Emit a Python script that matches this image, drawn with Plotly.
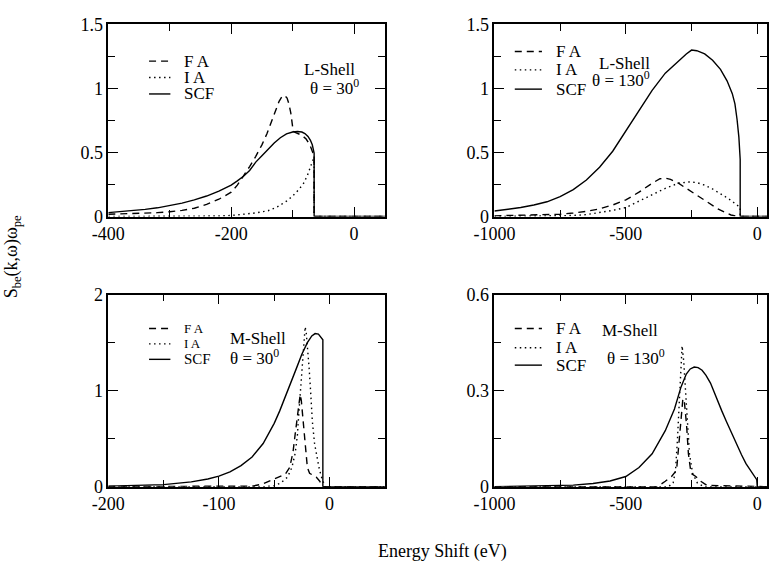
import plotly.graph_objects as go

# ---------------- data ----------------
# Panel 1: L-Shell, theta = 30
p1_scf_x = [-400, -380, -360, -340, -320, -300, -280, -260, -240, -220, -200, -190, -180, -170, -160, -150, -140, -130, -120, -110, -100, -92, -85, -80, -75, -71, -68, -66, -65, -65, 50]
p1_scf_y = [0.030, 0.037, 0.046, 0.056, 0.068, 0.085, 0.105, 0.13, 0.16, 0.198, 0.245, 0.278, 0.315, 0.36, 0.425, 0.475, 0.525, 0.575, 0.615, 0.645, 0.66, 0.664, 0.66, 0.648, 0.625, 0.595, 0.56, 0.525, 0.495, 0, 0]
p1_fa_x = [-400, -360, -320, -300, -280, -260, -240, -220, -200, -190, -180, -170, -160, -150, -142, -135, -128, -122, -117, -113, -109, -106, -103, -101, -99, -95, -85, -78, -72, -68, -65, -65, 50]
p1_fa_y = [0.018, 0.022, 0.030, 0.037, 0.048, 0.065, 0.095, 0.135, 0.19, 0.245, 0.315, 0.39, 0.47, 0.56, 0.645, 0.73, 0.82, 0.90, 0.94, 0.945, 0.925, 0.88, 0.81, 0.74, 0.665, 0.655, 0.635, 0.605, 0.56, 0.51, 0.47, 0, 0]
p1_ia_x = [-400, -250, -220, -200, -180, -160, -140, -125, -110, -100, -90, -82, -76, -71, -67, -65, -65, 50]
p1_ia_y = [0, 0, 0.004, 0.008, 0.016, 0.028, 0.045, 0.075, 0.12, 0.16, 0.21, 0.26, 0.32, 0.38, 0.44, 0.47, 0, 0]

# Panel 2: L-Shell, theta = 130
p2_scf_x = [-1000, -950, -900, -850, -800, -750, -700, -650, -600, -550, -500, -450, -400, -350, -300, -270, -250, -230, -200, -170, -140, -115, -95, -85, -77, -70, -65, -65, 40]
p2_scf_y = [0.043, 0.055, 0.07, 0.09, 0.115, 0.155, 0.21, 0.285, 0.385, 0.51, 0.67, 0.83, 0.985, 1.12, 1.215, 1.27, 1.30, 1.295, 1.27, 1.22, 1.15, 1.06, 0.96, 0.88, 0.76, 0.62, 0.445, 0, 0]
p2_fa_x = [-1000, -900, -800, -750, -700, -650, -600, -550, -500, -450, -400, -370, -350, -330, -300, -270, -240, -210, -180, -150, -120, -100, -80, -65, 40]
p2_fa_y = [0.005, 0.008, 0.013, 0.018, 0.027, 0.04, 0.06, 0.09, 0.13, 0.19, 0.26, 0.295, 0.30, 0.29, 0.26, 0.22, 0.18, 0.14, 0.10, 0.06, 0.03, 0.012, 0.003, 0, 0]
p2_ia_x = [-1000, -800, -700, -650, -600, -550, -500, -450, -400, -350, -300, -260, -230, -200, -170, -140, -110, -90, -75, -65, -65, 40]
p2_ia_y = [0, 0.002, 0.008, 0.015, 0.03, 0.048, 0.07, 0.12, 0.17, 0.22, 0.26, 0.27, 0.265, 0.245, 0.215, 0.18, 0.14, 0.11, 0.085, 0.07, 0, 0]

# Panel 3: M-Shell, theta = 30
p3_scf_x = [-200, -175, -150, -125, -110, -100, -90, -80, -70, -60, -55, -50, -45, -40, -35, -30, -25, -20, -16, -13, -10, -8, -6, -6, 50]
p3_scf_y = [0.006, 0.012, 0.022, 0.05, 0.08, 0.11, 0.155, 0.22, 0.31, 0.45, 0.55, 0.66, 0.79, 0.93, 1.08, 1.23, 1.38, 1.50, 1.57, 1.595, 1.59, 1.565, 1.53, 0, 0]
p3_fa_x = [-200, -100, -70, -60, -52, -45, -40, -36, -33, -31, -29, -27.5, -26.5, -25.5, -24, -23, -21.5, -20, -18, -15, -12, -9, -6, -6, 50]
p3_fa_y = [0.003, 0.003, 0.005, 0.03, 0.07, 0.10, 0.13, 0.20, 0.36, 0.55, 0.75, 0.92, 0.96, 0.90, 0.70, 0.54, 0.33, 0.20, 0.14, 0.12, 0.10, 0.06, 0.01, 0, 0]
p3_ia_x = [-200, -60, -50, -44, -38, -34, -31, -29, -27.5, -26, -24.5, -23, -22, -21, -20, -18.5, -17, -15.5, -13.5, -11.5, -9.5, -7.5, -5.5, -4, 50]
p3_ia_y = [0, 0, 0.01, 0.04, 0.10, 0.20, 0.35, 0.54, 0.80, 1.05, 1.32, 1.55, 1.665, 1.60, 1.48, 1.25, 0.98, 0.68, 0.45, 0.30, 0.20, 0.11, 0.04, 0, 0]

# Panel 4: M-Shell, theta = 130
p4_scf_x = [-1000, -900, -800, -700, -625, -560, -500, -450, -400, -350, -315, -290, -270, -255, -240, -225, -210, -195, -178, -154, -135, -117, -100, -80, -60, -43, -30, -18, -2, 0, 40]
p4_scf_y = [0.0, 0.001, 0.002, 0.005, 0.01, 0.018, 0.032, 0.06, 0.103, 0.175, 0.243, 0.312, 0.352, 0.368, 0.374, 0.372, 0.364, 0.348, 0.324, 0.273, 0.237, 0.203, 0.172, 0.133, 0.10, 0.072, 0.055, 0.042, 0.022, 0, 0]
p4_fa_x = [-1000, -381, -350, -326, -307, -299, -291, -283, -277, -269, -262, -252, -234, -215, -191, 40]
p4_fa_y = [0, 0, 0.017, 0.032, 0.052, 0.123, 0.213, 0.275, 0.263, 0.193, 0.103, 0.042, 0.032, 0.017, 0.004, 0]
p4_ia_x = [-1000, -338, -320, -311, -304, -298, -292, -286, -280, -274, -266, -258, -246, -228, -203, 40]
p4_ia_y = [0, 0, 0.012, 0.052, 0.143, 0.243, 0.344, 0.44, 0.394, 0.304, 0.203, 0.103, 0.042, 0.012, 0, 0]

# tick labels
p1_xticks = [-400, -200, 0]
p1_xlabels = ["-400", "-200", "0"]
p2_xticks = [-1000, -500, 0]
p2_xlabels = ["-1000", "-500", "0"]
p3_xticks = [-200, -100, 0]
p3_xlabels = ["-200", "-100", "0"]
top_yticks = [0, 0.5, 1, 1.5]
top_ylabels = ["0", "0.5", "1", "1.5"]
p3_yticks = [0, 1, 2]
p3_ylabels = ["0", "1", "2"]
p4_yticks = [0, 0.3, 0.6]
p4_ylabels = ["0", "0.3", "0.6"]

legend_names = ["F A", "I A", "SCF"]

# ---------------- styling ----------------
W, H = 769, 572
FONT = "Times New Roman, Liberation Serif, DejaVu Serif, serif"
DASH = "7px,5px"
DOT = "1.5px,3.5px"
LW = 1.4
FS = 18
LFS = 17


def px(x):
    return x / W


def py(y):
    return 1 - y / H


fig = go.Figure()

panels = [
    ("x", "y", p1_fa_x, p1_fa_y, p1_ia_x, p1_ia_y, p1_scf_x, p1_scf_y),
    ("x2", "y2", p2_fa_x, p2_fa_y, p2_ia_x, p2_ia_y, p2_scf_x, p2_scf_y),
    ("x3", "y3", p3_fa_x, p3_fa_y, p3_ia_x, p3_ia_y, p3_scf_x, p3_scf_y),
    ("x4", "y4", p4_fa_x, p4_fa_y, p4_ia_x, p4_ia_y, p4_scf_x, p4_scf_y),
]
for xa, ya, fx, fy, ix, iy, sx, sy in panels:
    fig.add_trace(go.Scatter(x=fx, y=fy, mode="lines", name="F A", xaxis=xa, yaxis=ya,
                             line=dict(color="black", width=LW, dash=DASH), showlegend=False))
    fig.add_trace(go.Scatter(x=ix, y=iy, mode="lines", name="I A", xaxis=xa, yaxis=ya,
                             line=dict(color="black", width=LW, dash=DOT), showlegend=False))
    fig.add_trace(go.Scatter(x=sx, y=sy, mode="lines", name="SCF", xaxis=xa, yaxis=ya,
                             line=dict(color="black", width=LW), showlegend=False))

left_dom = [px(90), px(375)]
right_dom = [px(488), 1.0]
top_dom = [py(214), py(15)]
bot_dom = [py(494), py(295)]


def axis(dom, rng, tv, tt, minor_dt, anchor):
    return dict(domain=dom, range=rng, anchor=anchor, tickmode="array", tickvals=tv, ticktext=tt,
                ticks="inside", ticklen=10, tickwidth=1.2, tickcolor="black",
                minor=dict(dtick=minor_dt, tick0=0, ticks="inside", ticklen=7, tickwidth=1.2, tickcolor="black"),
                showline=True, linecolor="black", linewidth=1.5, mirror="ticks",
                showgrid=False, zeroline=False,
                tickfont=dict(family=FONT, size=FS, color="black"))


fig.update_layout(
    width=W, height=H,
    margin=dict(l=0, r=0, t=0, b=0),
    paper_bgcolor="white", plot_bgcolor="white",
    showlegend=False,
    font=dict(family=FONT, size=FS, color="black"),
    xaxis=axis(left_dom, [-400, 50], p1_xticks, p1_xlabels, 100, "y"),
    yaxis=axis(top_dom, [0, 1.5], top_yticks, top_ylabels, 0.25, "x"),
    xaxis2=axis(right_dom, [-1000, 37], p2_xticks, p2_xlabels, 250, "y2"),
    yaxis2=axis(top_dom, [0, 1.5], top_yticks, top_ylabels, 0.25, "x2"),
    xaxis3=axis(left_dom, [-200, 50], p3_xticks, p3_xlabels, 50, "y3"),
    yaxis3=axis(bot_dom, [0, 2], p3_yticks, p3_ylabels, 0.5, "x3"),
    xaxis4=axis(right_dom, [-1000, 37], p2_xticks, p2_xlabels, 250, "y4"),
    yaxis4=axis(bot_dom, [0, 0.6], p4_yticks, p4_ylabels, 0.15, "x4"),
)

# legend samples and texts per panel: (sample x0, x1, text x, [row y's], font sizes)
legend_specs = [
    (132, 154, 166, [53, 70, 87], [LFS, LFS, LFS]),
    (509, 537, 549, [43, 62, 82], [LFS, LFS, LFS]),
    (132, 154, 166, [330, 346, 362], [13, 13, 15]),
    (509, 537, 549, [330, 350, 368], [LFS, LFS, LFS]),
]
dashes = [DASH, DOT, "solid"]
for x0, x1, tx, ys, fs in legend_specs:
    for name, yy, d, f in zip(legend_names, ys, dashes, fs):
        fig.add_shape(type="line", xref="paper", yref="paper", x0=px(x0), x1=px(x1), y0=py(yy), y1=py(yy),
                      line=dict(color="black", width=LW, dash=d))
        fig.add_annotation(text=name, xref="paper", yref="paper", x=px(tx), y=py(yy), xanchor="left",
                           yanchor="middle", showarrow=False, font=dict(family=FONT, size=f, color="black"))

labels = [
    ("L-Shell", 290, 62),
    ("θ = 30<sup>0</sup>", 296, 80),
    ("L-Shell", 594, 55),
    ("θ = 130<sup>0</sup>", 587, 72),
    ("M-Shell", 213, 340),
    ("θ = 30<sup>0</sup>", 213, 360),
    ("M-Shell", 597, 332),
    ("θ = 130<sup>0</sup>", 602, 360),
]
for t, x, y in labels:
    fig.add_annotation(text=t, xref="paper", yref="paper", x=px(x), y=py(y), xanchor="left", yanchor="middle",
                       showarrow=False, font=dict(family=FONT, size=LFS, color="black"))

fig.add_annotation(text="S<sub>be</sub>(k,ω)ω<sub>pe</sub>", xref="paper", yref="paper", x=px(-9), y=py(256),
                   xanchor="center", yanchor="middle", textangle=-90, showarrow=False,
                   font=dict(family=FONT, size=FS, color="black"))
fig.add_annotation(text="Energy Shift (eV)", xref="paper", yref="paper", x=px(434), y=py(561),
                   xanchor="center", yanchor="middle", showarrow=False,
                   font=dict(family=FONT, size=FS, color="black"))

fig.write_html("out.html")
